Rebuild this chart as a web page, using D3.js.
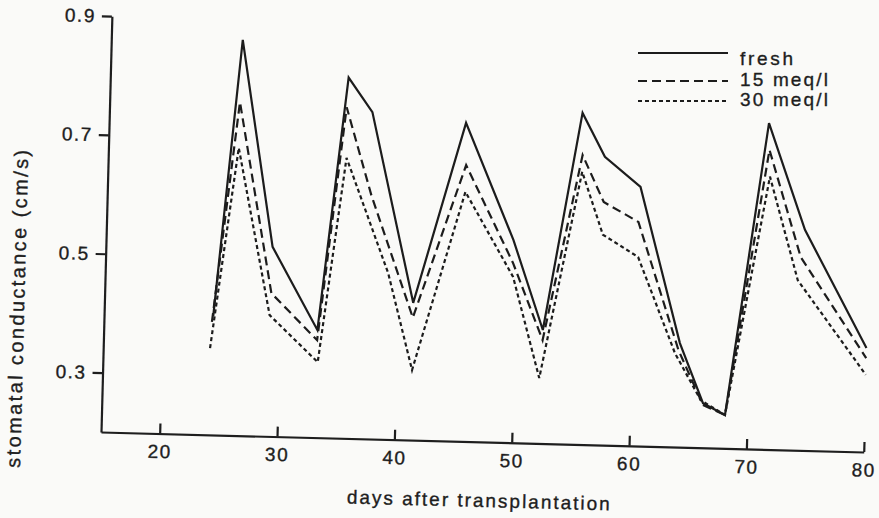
<!DOCTYPE html>
<html lang="en">

<head>
  <script src="https://d3js.org/d3.v7.min.js"></script>
  <meta charset="UTF-8">
  <title>stomatal conductance</title>
  <style>
    body {
      margin: 0;
      background: #fafaf8;
    }

    text {
      font-family: "Liberation Sans", Arial, sans-serif;
      fill: #1e1e1e;
      stroke: #1e1e1e;
      stroke-width: 0.35px;
    }

    .axis path,
    .axis line {
      stroke: #1e1e1e;
      stroke-width: 2.2;
    }

    .axis text {
      font-size: 19px;
      letter-spacing: 1.5px;
    }
  </style>
</head>

<body>
  <svg id="chart" width="879" height="518"></svg>
  <script>
    // values: [day, conductance]
    const fresh = [[24.3, 0.40], [26.2, 0.866], [29.2, 0.519], [33.2, 0.381], [35.3, 0.807], [37.4, 0.750],
    [41.3, 0.431], [45.4, 0.736], [49.7, 0.541], [52.4, 0.391], [55.3, 0.758], [57.3, 0.685], [60.4, 0.636],
    [64.1, 0.375], [66.2, 0.275], [68.1, 0.256], [71.2, 0.749], [74.5, 0.571], [80, 0.375]];
    const meq15 = [[24.2, 0.39], [26.1, 0.761], [29.2, 0.441], [33.2, 0.364], [35.2, 0.757], [37.5, 0.61],
    [41.3, 0.406], [45.5, 0.665], [49.7, 0.503], [52.4, 0.374], [55.4, 0.687], [57.3, 0.609], [60.3, 0.577],
    [64.0, 0.363], [66.2, 0.272], [68.1, 0.256], [71.3, 0.704], [74.2, 0.525], [80, 0.358]];
    const meq30 = [[24.1, 0.346], [26.1, 0.684], [29.1, 0.404], [33.3, 0.327], [35.3, 0.672], [39.1, 0.480],
    [41.35, 0.318], [45.5, 0.620], [49.75, 0.479], [52.2, 0.310], [55.4, 0.659], [57.3, 0.554], [60.35, 0.518],
    [63.7, 0.358], [66.0, 0.280], [68.1, 0.256], [71.4, 0.659], [74.0, 0.486], [80, 0.330]];

    const seriesNames = ["fresh", "15 meq/l", "30 meq/l"];
    const xTicks = [20, 30, 40, 50, 60, 70, 80];
    const yTicks = [0.3, 0.5, 0.7, 0.9];

    const svg = d3.select("#chart");
    const chartWidth = 763;
    const chartHeight = 416;

    // the scan is tilted a little, so the plot area is rotated around the axis corner
    const plot = svg.append("g")
      .attr("transform", "translate(101,432) rotate(1.5)");

    const xScale = d3.scaleLinear().domain([15, 80]).range([0, chartWidth]);
    const yScale = d3.scaleLinear().domain([0.2, 0.9]).range([0, -chartHeight]);

    const dashes = d3.scaleOrdinal().domain(seriesNames).range(["none", "9,5", "4,3"]);

    // Y axis, ticks outside
    plot.append("g")
      .attr("class", "y axis")
      .call(d3.axisLeft(yScale).tickValues(yTicks).tickFormat(d3.format(".1f"))
        .tickSize(10).tickSizeOuter(0).tickPadding(6));

    // X axis, ticks pointing up into the plot
    plot.append("g")
      .attr("class", "x axis")
      .call(d3.axisBottom(xScale).tickValues(xTicks).tickFormat(d3.format("d"))
        .tickSize(-10).tickSizeOuter(0).tickPadding(11));

    plot.selectAll(".axis .domain").attr("fill", "none");

    const lineGen = d3.line()
      .x(d => xScale(d[0]))
      .y(d => yScale(d[1]));

    const data = [
      { name: "fresh", values: fresh },
      { name: "15 meq/l", values: meq15 },
      { name: "30 meq/l", values: meq30 }
    ];

    plot.selectAll("path.series").data(data)
      .join("path")
      .attr("class", "series")
      .attr("fill", "none")
      .attr("stroke", "#1c1c1c")
      .attr("stroke-width", 2.2)
      .attr("stroke-linejoin", "miter")
      .attr("stroke-dasharray", d => dashes(d.name))
      .attr("d", d => lineGen(d.values));

    // axis titles
    plot.append("text")
      .attr("x", 379)
      .attr("y", 65)
      .attr("text-anchor", "middle")
      .attr("font-size", 19)
      .attr("textLength", 263)
      .attr("lengthAdjust", "spacing")
      .text("days after transplantation");

    plot.append("text")
      .attr("transform", "translate(-80,-121) rotate(-90)")
      .attr("text-anchor", "middle")
      .attr("font-size", 20)
      .attr("textLength", 318)
      .attr("lengthAdjust", "spacing")
      .text("stomatal conductance (cm/s)");

    // legend
    const legendLineY = [53, 81, 101];
    const legendTextY = [65, 86, 106];
    const legendWidths = [53, 88, 88];
    const legend = svg.append("g").attr("class", "legend");
    legend.selectAll("line").data(seriesNames)
      .join("line")
      .attr("x1", 638)
      .attr("x2", 728)
      .attr("y1", (d, i) => legendLineY[i])
      .attr("y2", (d, i) => legendLineY[i])
      .attr("stroke", "#1c1c1c")
      .attr("stroke-width", 2.2)
      .attr("stroke-dasharray", d => dashes(d));
    legend.selectAll("text").data(seriesNames)
      .join("text")
      .attr("x", 740)
      .attr("y", (d, i) => legendTextY[i])
      .attr("font-size", 19)
      .attr("textLength", (d, i) => legendWidths[i])
      .attr("lengthAdjust", "spacing")
      .text(d => d);
  </script>
</body>

</html>
